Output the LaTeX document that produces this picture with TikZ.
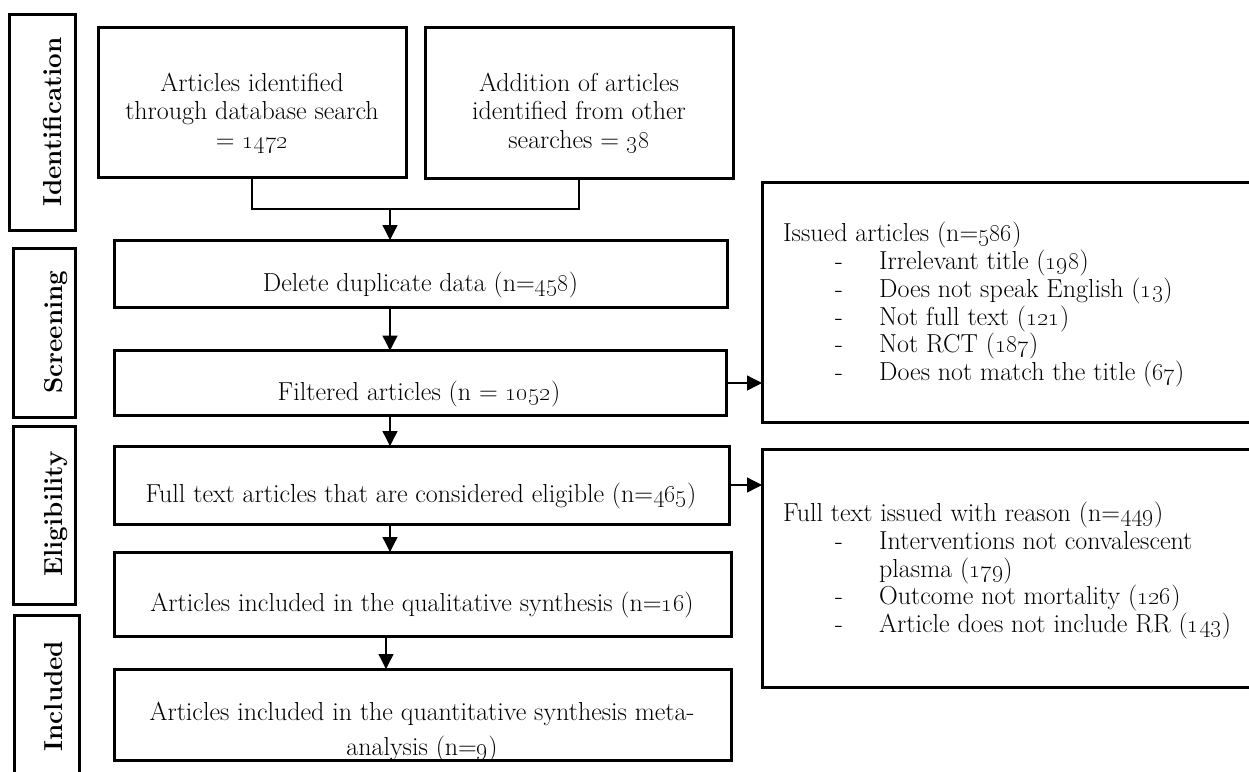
\documentclass[tikz,border=0pt]{standalone}
\usetikzlibrary{arrows.meta}
\newcommand{\os}[1]{\oldstylenums{#1}}
\begin{document}
\begin{tikzpicture}[x=1pt,y=-1pt,
  box/.style={draw, line width=3pt, inner sep=0pt, outer sep=0pt},
  conn/.style={line width=1.3pt},
  arr/.style={line width=1.3pt, -{Triangle[length=15pt,width=15pt]}},
  txt/.style={inner sep=0pt, anchor=base, font=\fontsize{26}{28.4}\selectfont},
  ltxt/.style={inner sep=0pt, anchor=base west, font=\fontsize{26}{27.7}\selectfont},
  stage/.style={inner sep=0pt, anchor=base, rotate=90, font=\fontsize{26}{30}\bfseries\selectfont}]
\useasboundingbox (0,0) rectangle (1249,771);

% stage label boxes
\node[box, minimum width=66pt, minimum height=216pt] (L1) at (42,122) {};
\node[box, minimum width=62pt, minimum height=169pt] (L2) at (44,332.5) {};
\node[box, minimum width=62pt, minimum height=178pt] (L3) at (44,515) {};
\node[box, minimum width=65pt, minimum height=175pt] (L4) at (46.5,702.5) {};
\node[stage] (S1) at (61,122) {Identification};
\node[stage] (S2) at (62,332) {Screening};
\node[stage] (S3) at (62,514) {Eligibility};
\node[stage] (S4) at (62,696) {Included};

% main boxes
\node[box, minimum width=308pt, minimum height=150pt] (A) at (252,102) {};
\node[box, minimum width=308pt, minimum height=151pt] (B) at (579,102.5) {};
\node[box, minimum width=613pt, minimum height=67pt] (C) at (420.5,273.5) {};
\node[box, minimum width=612pt, minimum height=65pt] (D) at (420,383) {};
\node[box, minimum width=615pt, minimum height=78pt] (E) at (421.5,485) {};
\node[box, minimum width=617pt, minimum height=84pt] (F) at (422.5,594) {};
\node[box, minimum width=617pt, minimum height=91pt] (G) at (422.5,714.5) {};
\node[box, minimum width=498pt, minimum height=240pt] (R1) at (1011,302) {};
\node[box, minimum width=498pt, minimum height=238pt] (R2) at (1011,568) {};

% texts
\node[txt] (tA) at (252,91.5) {\begin{tabular}[t]{@{}c@{}}Articles identified\\through database search\\= \os{1472}\end{tabular}};
\node[txt] (tB) at (579,91.5) {\begin{tabular}[t]{@{}c@{}}Addition of articles\\identified from other\\searches = \os{38}\end{tabular}};
\node[txt] (tC) at (420.5,291.5) {Delete duplicate data (n=\os{458})};
\node[txt] (tD) at (419,400) {Filtered articles (n = \os{1052})};
\node[txt] (tE) at (421,502) {Full text articles that are considered eligible (n=\os{465})};
\node[txt] (tF) at (422,611) {Articles included in the qualitative synthesis (n=\os{16})};
\node[txt] (tG) at (422,720) {\begin{tabular}[t]{@{}c@{}}Articles included in the quantitative synthesis meta-\\[6.6pt]analysis (n=\os{9})\end{tabular}};
\node[ltxt] (tR1) at (783,241.7) {\begin{tabular}[t]{@{}p{52pt}@{}p{44pt}@{}l@{}}
\multicolumn{3}{@{}l@{}}{Issued articles (n=\os{586})}\\
& - & Irrelevant title (\os{198})\\
& - & Does not speak English (\os{13})\\
& - & Not full text (\os{121})\\
& - & Not RCT (\os{187})\\
& - & Does not match the title (\os{67})
\end{tabular}};
\node[ltxt] (tR2) at (783,521.7) {\begin{tabular}[t]{@{}p{52pt}@{}p{44pt}@{}l@{}}
\multicolumn{3}{@{}l@{}}{Full text issued with reason (n=\os{449})}\\
& - & Interventions not convalescent\\
&   & plasma (\os{179})\\
& - & Outcome not mortality (\os{126})\\
& - & Article does not include RR (\os{143})
\end{tabular}};

% connectors
\coordinate (jc) at (390,209);
\coordinate (xb) at (386,0);
\draw[conn] (A.south) |- (jc) -| (B.south);
\draw[arr] (jc) -- (C.north -| jc);
\draw[arr] (C.south -| jc) -- (D.north -| jc);
\draw[arr] (D.south -| jc) -- (E.north -| jc);
\draw[arr] (E.south -| jc) -- (F.north -| jc);
\draw[arr] (F.south -| xb) -- (G.north -| xb);
\draw[arr] (D.east) -- (D.east -| R1.west);
\draw[arr] (E.east) -- (E.east -| R2.west);
\end{tikzpicture}
\end{document}
